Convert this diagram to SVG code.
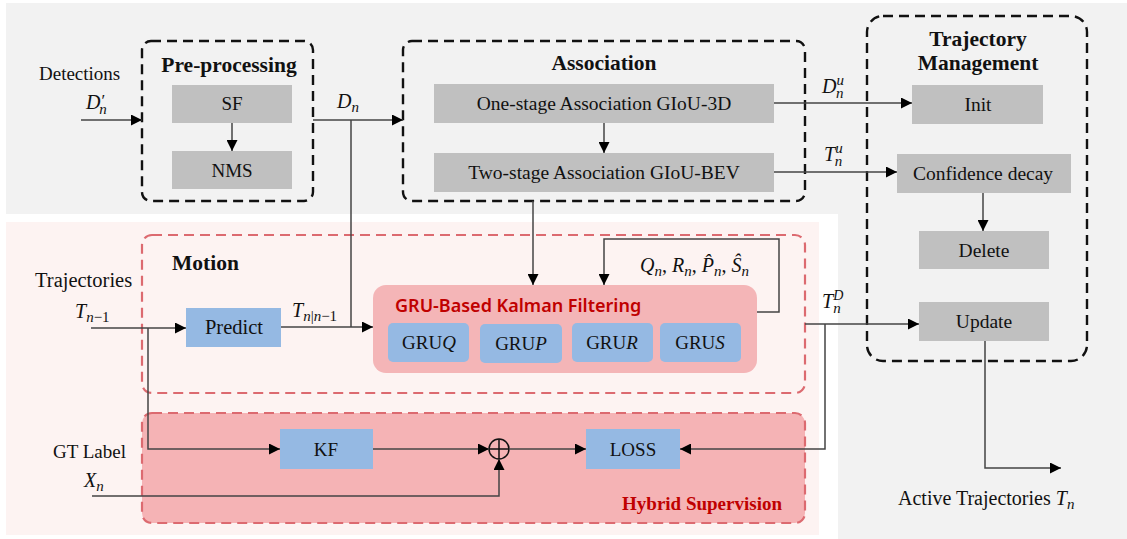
<svg xmlns="http://www.w3.org/2000/svg" width="1127" height="539" viewBox="0 0 1127 539" font-family="'Liberation Serif', serif">
<defs>
<marker id="ah" viewBox="0 0 10 10" refX="10" refY="5" markerWidth="11" markerHeight="11" markerUnits="userSpaceOnUse" orient="auto">
<path d="M0,0 L10,5 L0,10 Z" fill="#000"/>
</marker>
<style>
.bgg{fill:#f2f2f2}
.bgp{fill:#fdf3f2}
.dk{fill:none;stroke:#111;stroke-width:2.4;stroke-dasharray:10 6}
.dr{stroke:#dc6a70;stroke-width:2.2;stroke-dasharray:10 6}
.gb{fill:#c0c0c0}
.bb{fill:#95b9e3}
.t{fill:#111}
.tb{font-weight:bold;fill:#111;font-size:21.5px}
.m{font-style:italic;fill:#111;font-size:20px}
.c{fill:none;stroke:#444;stroke-width:1.5}
.ca{fill:none;stroke:#444;stroke-width:1.5;marker-end:url(#ah)}
</style>
</defs>
<rect width="1127" height="539" fill="#fff"/>
<path class="bgg" d="M6,3 H1127 V539 H838 V214 H6 Z"/>
<rect class="bgp" x="6" y="222" width="813" height="313"/>

<g id="preprocessing">
<rect class="dk" x="142" y="41" width="171" height="160" rx="9"/>
<text class="tb" x="229" y="72" text-anchor="middle">Pre-processing</text>
</g>
<g id="sf"><rect class="gb" x="172" y="85" width="120" height="38"/><text class="t" x="232" y="110" font-size="19" text-anchor="middle">SF</text></g>
<g id="nms"><rect class="gb" x="172" y="151" width="120" height="38"/><text class="t" x="232" y="177" font-size="19" text-anchor="middle">NMS</text></g>

<g id="association">
<rect class="dk" x="403" y="41" width="402" height="160" rx="9"/>
<text class="tb" x="604" y="70" text-anchor="middle">Association</text>
</g>
<g id="onestage"><rect class="gb" x="434" y="84" width="340" height="39"/><text class="t" x="604" y="110" font-size="19.5" text-anchor="middle">One-stage Association GIoU-3D</text></g>
<g id="twostage"><rect class="gb" x="434" y="153" width="340" height="39"/><text class="t" x="604" y="179" font-size="19.5" text-anchor="middle">Two-stage Association GIoU-BEV</text></g>

<g id="trajmgmt">
<rect class="dk" x="867" y="16" width="220" height="345" rx="16"/>
<text class="tb" x="978" y="46" text-anchor="middle">Trajectory</text>
<text class="tb" x="978" y="70" text-anchor="middle">Management</text>
</g>
<g id="init"><rect class="gb" x="912" y="85" width="131" height="39"/><text class="t" x="978" y="111" font-size="19.5" text-anchor="middle">Init</text></g>
<g id="confdecay"><rect class="gb" x="897" y="154" width="174" height="39"/><text class="t" x="983" y="180" font-size="19.5" text-anchor="middle">Confidence decay</text></g>
<g id="delete"><rect class="gb" x="919" y="231" width="130" height="38"/><text class="t" x="984" y="257" font-size="19.5" text-anchor="middle">Delete</text></g>
<g id="update"><rect class="gb" x="919" y="302" width="130" height="39"/><text class="t" x="984" y="328" font-size="19.5" text-anchor="middle">Update</text></g>

<g id="motion">
<rect class="dr" fill="none" x="142" y="235" width="663" height="158" rx="10"/>
<text class="tb" x="172" y="270">Motion</text>
</g>
<g id="predict"><rect class="bb" x="186" y="308" width="95" height="39"/><text class="t" x="234" y="334" font-size="20.5" text-anchor="middle">Predict</text></g>

<g id="grukf">
<rect x="373" y="285" width="384" height="88" rx="13" fill="#f4b5b7"/>
<text x="395" y="312" font-family="'Noto Sans','Open Sans',sans-serif" font-size="18" font-weight="600" fill="#c00000">GRU-Based Kalman Filtering</text>
</g>
<g id="gruq"><rect class="bb" x="388" y="323" width="81" height="39" rx="5"/><text class="t" x="429" y="349" font-size="19" text-anchor="middle">GRU<tspan font-style="italic">Q</tspan></text></g>
<g id="grup"><rect class="bb" x="480" y="324" width="82" height="39" rx="5"/><text class="t" x="521" y="350" font-size="19" text-anchor="middle">GRU<tspan font-style="italic">P</tspan></text></g>
<g id="grur"><rect class="bb" x="572" y="323" width="81" height="39" rx="5"/><text class="t" x="612" y="349" font-size="19" text-anchor="middle">GRU<tspan font-style="italic">R</tspan></text></g>
<g id="grus"><rect class="bb" x="660" y="323" width="81" height="39" rx="5"/><text class="t" x="700" y="349" font-size="19" text-anchor="middle">GRU<tspan font-style="italic">S</tspan></text></g>

<g id="hybrid">
<rect class="dr" fill="#f5b3b5" x="142" y="413" width="663" height="110" rx="10"/>
<text x="782" y="510" font-weight="bold" font-size="19" fill="#c00000" text-anchor="end">Hybrid Supervision</text>
</g>
<g id="kf"><rect class="bb" x="280" y="429" width="93" height="40"/><text class="t" x="326" y="456" font-size="19" text-anchor="middle">KF</text></g>
<g id="loss"><rect class="bb" x="586" y="429" width="94" height="40"/><text class="t" x="633" y="456" font-size="19" text-anchor="middle">LOSS</text></g>
<g id="sum">
<circle cx="499" cy="449" r="10" fill="none" stroke="#111" stroke-width="1.5"/>
<path d="M489,449 H509 M499,439 V459" stroke="#111" stroke-width="1.5"/>
</g>

<g id="connectors">
<path class="ca" d="M81,120 H142"/>
<path class="ca" d="M232,123 V151"/>
<path class="ca" d="M313,120 H403"/>
<path class="c" d="M351,120 V327"/>
<path class="ca" d="M281,327 H373"/>
<path class="ca" d="M604,123 V153"/>
<path class="ca" d="M533,201 V285"/>
<path class="ca" d="M757,312 H779 V239 H604 V285"/>
<path class="ca" d="M774,103 H912"/>
<path class="ca" d="M774,172 H897"/>
<path class="ca" d="M983,193 V231"/>
<path class="ca" d="M805,324 H919"/>
<path class="ca" d="M825,324 V449 H680"/>
<path class="ca" d="M985,341 V468 H1061"/>
<path class="ca" d="M91,328 H186"/>
<path class="ca" d="M148,328 V449 H280"/>
<path class="ca" d="M373,449 H489"/>
<path class="ca" d="M509,449 H586"/>
<path class="ca" d="M92,496 H499 V459"/>
</g>

<g id="labels">
<text class="t" x="39" y="80" font-size="19">Detections</text>
<text class="m" x="86" y="109">D<tspan dx="1" dy="-3" font-size="17" font-style="normal">′</tspan><tspan dx="-6" dy="8" font-size="15">n</tspan></text>
<text class="m" x="337" y="108">D<tspan dy="4" font-size="15">n</tspan></text>
<text class="m" x="822" y="93">D<tspan dy="-8" font-size="15">u</tspan><tspan dx="-8" dy="13" font-size="15">n</tspan></text>
<text class="m" x="824" y="161">T<tspan dy="-8" font-size="15">u</tspan><tspan dx="-8" dy="13" font-size="15">n</tspan></text>
<text class="m" x="822" y="308">T<tspan dy="-8" font-size="14">D</tspan><tspan dx="-10" dy="13" font-size="15">n</tspan></text>
<text class="t" x="35" y="287" font-size="20.5">Trajectories</text>
<text class="m" x="75" y="318">T<tspan dy="4" font-size="15">n</tspan><tspan dy="0" font-size="15" font-style="normal">−1</tspan></text>
<text class="m" x="292" y="317">T<tspan dy="4" font-size="15">n</tspan><tspan font-size="15" font-style="normal">|</tspan><tspan font-size="15">n</tspan><tspan font-size="15" font-style="normal">−1</tspan></text>
<text class="m" x="640" y="272">Q<tspan dy="4" font-size="15">n</tspan><tspan dy="-4" font-style="normal">, </tspan>R<tspan dy="4" font-size="15">n</tspan><tspan dy="-4" font-style="normal">, </tspan>P̂<tspan dy="4" font-size="15">n</tspan><tspan dy="-4" font-style="normal">, </tspan>Ŝ<tspan dy="4" font-size="15">n</tspan></text>
<text class="t" x="53" y="458" font-size="19">GT Label</text>
<text class="m" x="84" y="487">X<tspan dy="4" font-size="15">n</tspan></text>
<text class="t" x="898" y="505" font-size="20">Active Trajectories <tspan font-style="italic" font-size="20">T</tspan><tspan font-style="italic" font-size="15" dy="4">n</tspan></text>
</g>
</svg>
